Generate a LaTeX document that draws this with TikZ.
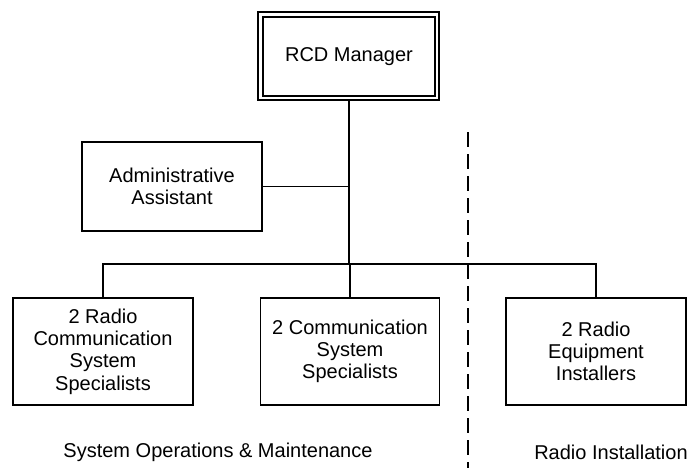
\documentclass[tikz,border=0pt]{standalone}
\usepackage{fontspec}
\setmainfont{Liberation Sans}
\begin{document}
\begin{tikzpicture}[x=1pt,y=-1pt,
  txt/.style={font=\fontsize{20}{22.3}\selectfont, align=center, inner sep=0pt},
  box/.style={txt, draw, line width=1.6pt, minimum width=180pt, minimum height=107pt},
  conn/.style={line width=1.9pt},
  mainconn/.style={line width=2.5pt},
  divider/.style={line width=2.5pt, dash pattern=on 15pt off 7pt}]
\useasboundingbox (0,0) rectangle (692,468);
% manager with double border
\node[txt, draw, line width=1.6pt, minimum width=181pt, minimum height=88pt] (mgr) at (348.5,56) {};
\node[txt, draw, line width=1.6pt, minimum width=172pt, minimum height=79pt] (mgrin) at (349,56.5) {RCD Manager};
\node[box, minimum height=89pt] (admin) at (172,186.5) {Administrative\\Assistant};
\node[box] (rcs) at (103,351.5) {2 Radio\\Communication\\System\\Specialists};
\node[box, minimum width=179pt] (css) at (350,351.5) {2 Communication\\System\\Specialists};
\node[box] (rei) at (596,351.5) {2 Radio\\Equipment\\Installers};
\coordinate (bus) at (349,264);
\coordinate (adminj) at (349,186.5);
\coordinate (dtop) at (468,132);
\coordinate (dbot) at (468,468);
\draw[mainconn] (mgr.south -| bus) -- (bus);
\draw[conn] (admin.east) -- (adminj);
\draw[conn] (rcs.north) |- (bus) -| (rei.north);
\draw[conn] (css.north) -- (css.north |- bus);
\draw[divider] (dtop) -- (dbot);
\node[txt] (som) at (218,452) {System Operations \& Maintenance};
\node[txt] (ri) at (611,452) {Radio Installation};
\end{tikzpicture}
\end{document}
